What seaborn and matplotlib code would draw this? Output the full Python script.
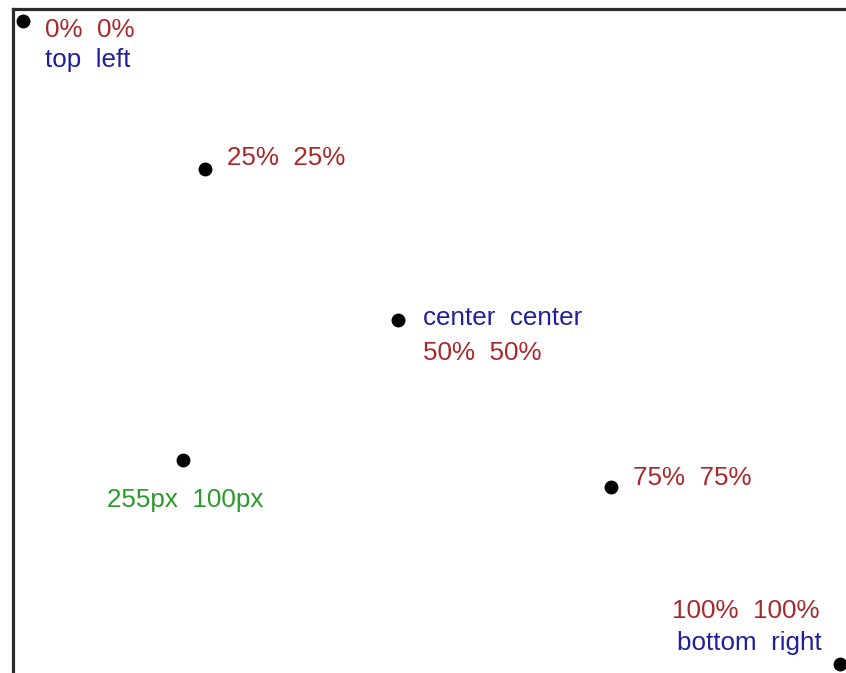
import pandas as pd
import seaborn as sns
import matplotlib.pyplot as plt

# Dot positions (pixels, origin top left)
dot_x = [23, 205, 398, 183, 611, 840]
dot_y = [21, 169, 320, 460, 487, 664]

# Caption lines: text, colour, left edge and baseline (pixels)
label_text = ["0%  0%", "top  left", "25%  25%", "center  center", "50%  50%",
              "255px  100px", "75%  75%", "100%  100%", "bottom  right"]
label_kind = ["pct", "kw", "pct", "kw", "pct", "px", "pct", "pct", "kw"]
label_x = [45, 45, 227, 423, 423, 107, 633, 672, 677]
label_y = [37, 67, 165, 325, 360, 507, 485, 618, 650]

colors = {"pct": "#a8282a", "kw": "#20209e", "px": "#2a9a2a"}

df = pd.DataFrame({"x": dot_x, "y": dot_y})

sns.set_style("white")
plt.rcParams['font.family'] = ['Liberation Sans', 'DejaVu Sans']

fig = plt.figure(figsize=(8.46, 6.73), dpi=100)
left, top = 12.5, 8.5
ax = fig.add_axes([left / 846, 0, 1 - left / 846, 1 - top / 673])
ax.set_xlim(left, 846)
ax.set_ylim(673, top)

sns.scatterplot(data=df, x="x", y="y", ax=ax, color="black", s=100,
                linewidth=0, legend=False)

for txt, kind, tx, ty in zip(label_text, label_kind, label_x, label_y):
    ax.text(tx, ty, txt, color=colors[kind], fontsize=18.7,
            ha="left", va="baseline")

ax.set_xticks([])
ax.set_yticks([])
ax.set_xlabel("")
ax.set_ylabel("")
for side in ["right", "bottom"]:
    ax.spines[side].set_visible(False)
for side in ["left", "top"]:
    ax.spines[side].set_color("#2b2b2b")
    ax.spines[side].set_linewidth(2.3)

fig.savefig("out.png", dpi=100)
